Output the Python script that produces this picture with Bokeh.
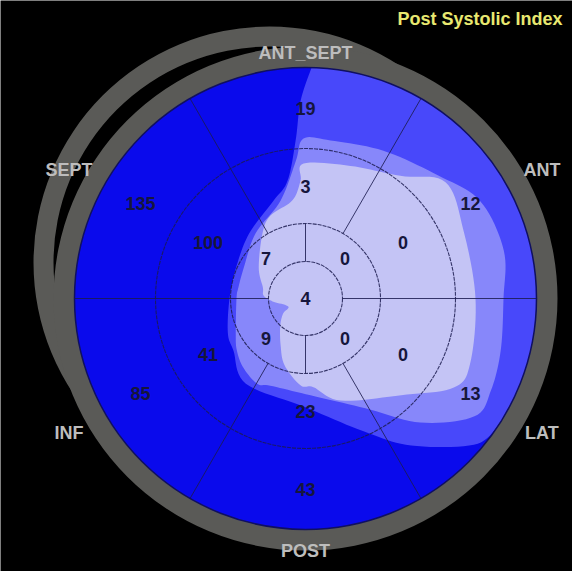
import numpy as np
from bokeh.plotting import figure
from bokeh.models import Range1d
from bokeh.core.properties import value
from bokeh.embed import file_html
from bokeh.resources import INLINE

# ---- 17-segment scores (basal / mid / apical / apex) ----
sector_names = ["ANT_SEPT", "ANT", "LAT", "POST", "INF", "SEPT"]
sector_angles = [90, 30, -30, -90, -150, 150]
basal_values = [19, 12, 13, 43, 85, 135]
mid_values = [3, 0, 0, 23, 41, 100]
apical_angles = [45, 135, 225, 315]
apical_values = [0, 7, 9, 0]
apex_value = 4

# ---- iso-contours of the smoothed index field (polar: degrees, radius) ----
# band 2 meets the rim between its two end angles
band2_theta = [88.5, 91.4, 93.6, 98.7, 108, 131, 156, 180, 204, 216, 235, 269, 293.6, 305.7, 319, 326]
band2_r = [231, 198, 158, 119, 103, 86, 76, 76, 85, 89, 104, 108, 145, 181, 223, 231]
band3_theta = [0, 13.6, 29.2, 42.8, 62.2, 81, 90.7, 94, 104.3, 127.6, 153.4, 170.7, 180,
               206.6, 217, 228, 240.5, 248, 273, 298.6, 312.8, 325.1, 333.6, 345.1]
band3_r = [198, 204, 200, 181, 167, 160, 160, 138, 101, 82, 69, 68, 69,
           78, 86, 93, 98, 94, 97, 125, 169, 206, 207, 202]
band4_theta = [0, 23.3, 39.7, 52.3, 71.3, 90.8, 92.4, 97.6, 112.9, 123.5, 146.6, 165.6, 176,
               185, 205, 214, 227, 242, 252.6, 266.7, 275.1, 289, 314.7, 329, 338.5]
band4_r = [170, 172, 182, 155, 140, 135, 118, 99, 90, 78, 56, 44, 42,
           33, 19, 27, 37, 53, 70, 87, 89, 108, 136, 173, 177]

# ring radii of the polar map
R_APEX, R_APICAL, R_MID, R_OUT = 37, 75, 150, 231

BG = "black"
RING = "#5a5a57"
BAND_COLORS = ["#0a0aec", "#4848fa", "#8787fa", "#c4c4f5"]
LINE = "#1c1c50"
NUM = "#16163c"
FONT = value("Liberation Sans")


def polar(theta_deg, r):
    t = np.radians(np.asarray(theta_deg, dtype=float))
    r = np.asarray(r, dtype=float)
    return r * np.cos(t), r * np.sin(t)


def catmull_rom(px, py, closed=True, n=10):
    pts = np.column_stack([px, py])
    if closed:
        P = np.vstack([pts[-1], pts, pts[0], pts[1]])
    else:
        P = np.vstack([pts[0], pts, pts[-1]])
    out = []
    for i in range(1, len(P) - 2):
        p0, p1, p2, p3 = P[i - 1], P[i], P[i + 1], P[i + 2]
        for t in np.linspace(0, 1, n, endpoint=False):
            t2, t3 = t * t, t * t * t
            out.append(0.5 * (2 * p1 + (-p0 + p2) * t + (2 * p0 - 5 * p1 + 4 * p2 - p3) * t2
                              + (-p0 + 3 * p1 - 3 * p2 + p3) * t3))
    if not closed:
        out.append(pts[-1])
    out = np.array(out)
    return out[:, 0], out[:, 1]


p = figure(width=572, height=571, x_range=Range1d(-305, 267), y_range=Range1d(-273, 298),
           output_backend="svg", toolbar_location=None, min_border=0,
           x_axis_location=None, y_axis_location=None,
           background_fill_color=BG, border_fill_color=BG)
p.grid.visible = False
p.outline_line_color = None

# grey frame rings (a displaced copy behind the main one)
p.annulus(x=-36, y=36, inner_radius=216, outer_radius=236, fill_color=RING, line_color=None)
p.annulus(x=0, y=0, inner_radius=R_OUT - 2, outer_radius=252, fill_color=RING, line_color=None)

# base disk = highest band
p.circle(x=0, y=0, radius=R_OUT, fill_color=BAND_COLORS[0], line_color=None)

# band 2: contour plus the rim arc it touches
cx, cy = polar(band2_theta, band2_r)
sx, sy = catmull_rom(cx, cy, closed=False)
rim_t = np.linspace(band2_theta[-1], band2_theta[0] + 360, 120)
rx, ry = polar(rim_t, np.full_like(rim_t, R_OUT))
p.patch(np.concatenate([sx, rx]), np.concatenate([sy, ry]), fill_color=BAND_COLORS[1], line_color=None)

for th, rr, col in [(band3_theta, band3_r, BAND_COLORS[2]), (band4_theta, band4_r, BAND_COLORS[3])]:
    cx, cy = polar(th, rr)
    sx, sy = catmull_rom(cx, cy, closed=True)
    p.patch(sx, sy, fill_color=col, line_color=None)

# segment borders
xs, ys = [], []
for a in [0, 180]:
    x, y = polar([a, a], [R_APEX, R_OUT])
    xs.append(list(x)); ys.append(list(y))
for a in [60, 120, 240, 300]:
    x, y = polar([a, a], [R_APICAL, R_OUT])
    xs.append(list(x)); ys.append(list(y))
for a in [90, 270]:
    x, y = polar([a, a], [R_APEX, R_APICAL])
    xs.append(list(x)); ys.append(list(y))
p.multi_line(xs, ys, line_color=LINE, line_width=1, line_alpha=0.85)
p.circle(x=[0, 0, 0], y=[0, 0, 0], radius=[R_APEX, R_APICAL, R_MID], fill_color=None,
         line_color=LINE, line_width=1.1, line_alpha=0.85, line_dash="4 1")
p.circle(x=0, y=0, radius=R_OUT, fill_color=None, line_color="#101060", line_width=1.5)

# segment values
vx, vy, vt = [0.0], [0.0], [str(apex_value)]
for a, v in zip(apical_angles, apical_values):
    x, y = polar(a, (R_APEX + R_APICAL) / 2)
    vx.append(float(x)); vy.append(float(y)); vt.append(str(v))
for a, v in zip(sector_angles, mid_values):
    x, y = polar(a, (R_APICAL + R_MID) / 2)
    vx.append(float(x)); vy.append(float(y)); vt.append(str(v))
for a, v in zip(sector_angles, basal_values):
    x, y = polar(a, (R_MID + R_OUT) / 2)
    vx.append(float(x)); vy.append(float(y)); vt.append(str(v))
p.text(vx, vy, text=vt, text_align="center", text_baseline="middle", text_font=FONT,
       text_font_style="bold", text_font_size="18px", text_color=NUM)

# wall names around the frame: top/bottom on the rim, side names on a wider ellipse
ang = np.radians(sector_angles)
on_axis = np.abs(np.sin(ang)) > 0.99
lx = np.where(on_axis, 249, 273) * np.cos(ang)
ly = np.where(on_axis, 249, 263) * np.sin(ang) - 3
p.text(lx, ly, text=sector_names, text_align="center", text_baseline="middle", text_font=FONT,
       text_font_style="bold", text_font_size="18px", text_color="#bdbdbd")

p.text([257], [280], text=["Post Systolic Index"], text_align="right", text_baseline="middle",
       text_font=FONT, text_font_style="bold", text_font_size="18px", text_color="#e8e870")

open("out.html", "w").write(file_html(p, INLINE))
